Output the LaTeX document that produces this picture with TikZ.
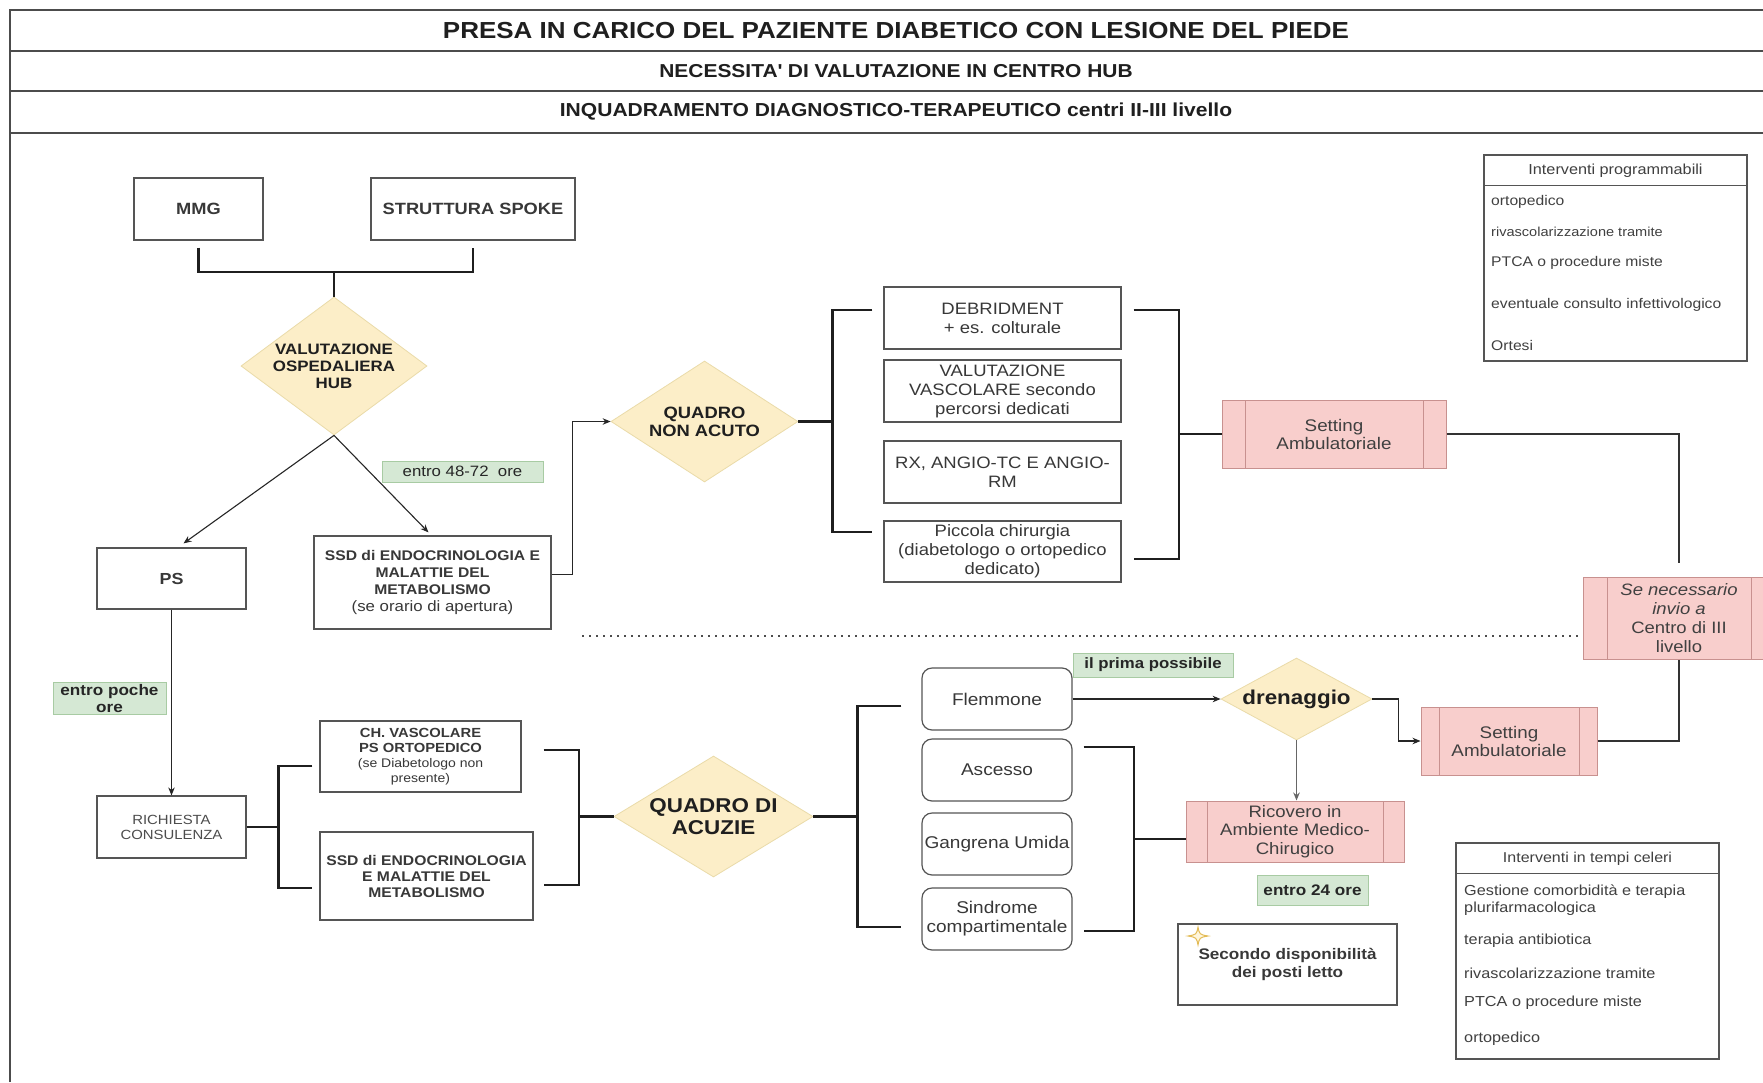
\documentclass[tikz,border=0pt]{standalone}
\usepackage{fontspec}
\setmainfont{Liberation Sans}[FakeStretch=1.12]
\usetikzlibrary{shapes.geometric,arrows.meta}

\definecolor{edge}{HTML}{555555}
\definecolor{pinkfill}{HTML}{F8CECC}
\definecolor{pinkline}{HTML}{C8918F}
\definecolor{yelfill}{HTML}{FCEEC8}
\definecolor{yelline}{HTML}{EADBA9}
\definecolor{grnfill}{HTML}{D5E8D4}
\definecolor{grnline}{HTML}{A8CBA3}
\definecolor{starline}{HTML}{E3BB55}
\definecolor{starfill}{HTML}{FFF6DC}

\newcommand\fsz[2]{\fontsize{#1}{#2}\selectfont}

\tikzset{
  box/.style={draw=edge, line width=1.2pt, fill=white, inner sep=0pt, align=center, text=black!78},
  rbox/.style={box, rounded corners=10pt},
  decision/.style={diamond, fill=yelfill, draw=yelline, line width=0.8pt, inner sep=0pt},
  dlabel/.style={inner sep=0pt, align=center, text=black!88, font=\bfseries},
  proc/.style={draw=pinkline, fill=pinkfill, line width=1pt, inner sep=0pt, align=center, text=black!75,
    path picture={\draw[pinkline, line width=1pt]
      ([xshift=#1]path picture bounding box.north west) -- ([xshift=#1]path picture bounding box.south west)
      ([xshift=-#1]path picture bounding box.north east) -- ([xshift=-#1]path picture bounding box.south east);}},
  proc/.default=23pt,
  tag/.style={fill=grnfill, draw=grnline, line width=0.8pt, inner sep=0pt, align=center, text=black!85},
  bracket/.style={draw=black!88, line width=2.2pt, line join=miter},
  heavy/.style={draw=black!80, line width=2pt},
  link/.style={draw=black!85, line width=1.1pt, -{Stealth[length=8pt,width=6.5pt]}},
  greylink/.style={draw=black!60, line width=1.8pt, -{Stealth[length=8pt,width=6.5pt]}},
  frame/.style={draw=black!70, line width=1.4pt},
  divider/.style={draw=black!70, line width=1.6pt, dash pattern=on 1.6pt off 5.4pt},
  item/.style={anchor=west, inner sep=0pt, text=black!75},
  title/.style={inner sep=0pt, text=black!88, font=\bfseries}
}

\begin{document}
\begin{tikzpicture}[x=1pt,y=-1pt]
\fill[white] (0,0) rectangle (1763,1082);
\useasboundingbox (0,0) rectangle (1763,1082);

% page frame and title rows
\draw[frame] (10,1082) -- (10,10) -- (1763,10);
\draw[frame] (10,51) -- (1763,51);
\draw[frame] (10,91) -- (1763,91);
\draw[frame] (10,133) -- (1763,133);
\node[title, font=\bfseries\fsz{23.2}{26}] (t1) at (896,30.5) {PRESA IN CARICO DEL PAZIENTE DIABETICO CON LESIONE DEL PIEDE};
\node[title, font=\bfseries\fsz{18.7}{22}] (t2) at (896,71) {NECESSITA\textquotesingle{} DI VALUTAZIONE IN CENTRO HUB};
\node[title, font=\bfseries\fsz{18.8}{22}] (t3) at (896,112) {INQUADRAMENTO DIAGNOSTICO-TERAPEUTICO centri II-III livello};

% entry points
\node[box, minimum width=129pt, minimum height=62pt, font=\bfseries\fsz{16.3}{19}] (mmg) at (198.5,209) {MMG};
\node[box, minimum width=204pt, minimum height=62pt, font=\bfseries\fsz{16.3}{19}] (spoke) at (473,209) {STRUTTURA SPOKE};
\node[decision, minimum width=186pt, minimum height=138pt] (val) at (334,366) {};
\node[dlabel, font=\bfseries\fsz{15.1}{17}] (valt) at (val.center) {VALUTAZIONE\\OSPEDALIERA\\HUB};
\coordinate (j1) at (334,272);
\draw[bracket] ([yshift=-7pt]mmg.south) |- (j1) -| ([yshift=-7pt]spoke.south);
\draw[bracket] (j1) -- (val.north);

% first split
\node[box, minimum width=149pt, minimum height=61pt, font=\bfseries\fsz{16}{19}] (ps) at (171.5,578.5) {PS};
\node[box, minimum width=237pt, minimum height=93pt, font=\bfseries\fsz{14}{17}] (ssd) at (432.5,582.5)
  {SSD di ENDOCRINOLOGIA E\\MALATTIE DEL\\METABOLISMO\\{\mdseries\fsz{15}{17}(se orario di apertura)}};
\node[tag, minimum width=161pt, minimum height=21pt, font=\fsz{15}{17}] (t4872) at (462.5,471.5) {entro 48-72\ \ ore};
\draw[link] (val.south) -- ([xshift=12pt,yshift=4pt]ps.north);
\draw[link] (val.south) -- ([xshift=-4pt,yshift=3pt]ssd.north);

% non acute branch
\node[decision, minimum width=187pt, minimum height=121pt] (qna) at (704.5,421.5) {};
\node[dlabel, font=\bfseries\fsz{16.4}{18}] (qnat) at (qna.center) {QUADRO\\NON ACUTO};
\draw[link] ([yshift=8pt]ssd.east) -- ++(21,0) |- (qna.west);

\node[box, minimum width=237pt, minimum height=62pt, font=\fsz{16.5}{19}] (deb) at (1002.5,318) {DEBRIDMENT\\+ es. colturale};
\node[box, minimum width=237pt, minimum height=62pt, font=\fsz{16.5}{19}] (vasc) at (1002.5,391) {VALUTAZIONE\\VASCOLARE secondo\\percorsi dedicati};
\node[box, minimum width=237pt, minimum height=62pt, font=\fsz{16.5}{19}] (rx) at (1002.5,472) {RX, ANGIO-TC E ANGIO-\\RM};
\node[box, minimum width=237pt, minimum height=61pt, font=\fsz{16.5}{19}] (pic) at (1002.5,551.5) {Piccola chirurgia\\(diabetologo o ortopedico\\dedicato)};

\draw[bracket] (qna.east) -- ++(35,0);
\draw[bracket] ([xshift=-11pt,yshift=8pt]deb.west) -- ([xshift=-51pt,yshift=8pt]deb.west)
  -- ([xshift=-51pt,yshift=19.5pt]pic.west) -- ([xshift=-11pt,yshift=19.5pt]pic.west);
\draw[bracket] ([xshift=12pt,yshift=8pt]deb.east) -- ([xshift=57pt,yshift=8pt]deb.east)
  -- ([xshift=57pt,yshift=-7.5pt]pic.east) -- ([xshift=12pt,yshift=-7.5pt]pic.east);

\node[proc, minimum width=224pt, minimum height=68pt, font=\fsz{16.8}{18}] (set1) at (1334,434) {Setting\\Ambulatoriale};
\draw[bracket] (set1.west) -- ++(-44,0);

\node[proc=24pt, minimum width=192pt, minimum height=82pt, font=\fsz{16.5}{19}] (se) at (1679,618)
  {\textit{Se necessario}\\\textit{invio a}\\Centro di III\\livello};
\draw[heavy] (set1.east) -| ([yshift=14pt]se.north);

% separator between the two pathways
\coordinate (divL) at (582,636);
\coordinate (divR) at (1578,636);
\draw[divider] (divL) -- (divR);

% acute branch
\node[tag, minimum width=113pt, minimum height=32pt, font=\bfseries\fsz{15.3}{17}] (tpoche) at (109.5,698.5) {entro poche\\ore};
\node[box, minimum width=149pt, minimum height=62pt, font=\fsz{13.3}{15}, text=black!70] (rich) at (171.5,827) {RICHIESTA\\CONSULENZA};
\draw[link] (ps.south) -- (rich.north);

\node[box, minimum width=201pt, minimum height=71pt, font=\bfseries\fsz{13.2}{15}] (chv) at (420.5,756.5)
  {CH. VASCOLARE\\PS ORTOPEDICO\\{\mdseries\fsz{12.5}{14}(se Diabetologo non}\\{\mdseries\fsz{12.5}{14}presente)}};
\node[box, minimum width=213pt, minimum height=88pt, font=\bfseries\fsz{14}{16}] (ssd2) at (426.5,876)
  {SSD di ENDOCRINOLOGIA\\E MALATTIE DEL\\METABOLISMO};
\draw[bracket] (rich.east) -- ++(33,0);
\draw[bracket] ([xshift=-7pt,yshift=-9.5pt]chv.west) -- ([xshift=-41pt,yshift=-9.5pt]chv.west)
  -- ([xshift=-41pt,yshift=-12pt]ssd2.west) -- ([xshift=-7pt,yshift=-12pt]ssd2.west);

\node[decision, minimum width=199pt, minimum height=121pt] (qa) at (713.5,816.5) {};
\node[dlabel, font=\bfseries\fsz{20}{22}] (qat) at (qa.center) {QUADRO DI\\ACUZIE};
\draw[bracket] ([xshift=22pt,yshift=6.5pt]chv.east) -- ([xshift=57pt,yshift=6.5pt]chv.east)
  -- ([xshift=45pt,yshift=-9pt]ssd2.east) -- ([xshift=10pt,yshift=-9pt]ssd2.east);
\draw[bracket] (qa.west) -- ++(-36,0);

\node[rbox, minimum width=150pt, minimum height=62pt, font=\fsz{17}{19}] (fle) at (997,699) {Flemmone};
\node[rbox, minimum width=150pt, minimum height=62pt, font=\fsz{17}{19}] (asc) at (997,770) {Ascesso};
\node[rbox, minimum width=150pt, minimum height=62pt, font=\fsz{17}{19}] (gan) at (997,844) {Gangrena Umida};
\node[rbox, minimum width=150pt, minimum height=62pt, font=\fsz{17}{19}] (sin) at (997,919) {Sindrome\\compartimentale};
\draw[bracket] (qa.east) -- ++(45,0);
\draw[bracket] ([xshift=-20pt,yshift=-7pt]fle.west) -- ([xshift=-64pt,yshift=-7pt]fle.west)
  -- ([xshift=-64pt,yshift=-8pt]sin.west) -- ([xshift=-20pt,yshift=-8pt]sin.west);

\node[decision, minimum width=151pt, minimum height=82pt] (dre) at (1296.5,699) {};
\node[dlabel, font=\bfseries\fsz{20}{22}] (dret) at (dre.center) {drenaggio};
\node[tag, minimum width=160pt, minimum height=24pt, font=\bfseries\fsz{15}{17}] (tprima) at (1153,665) {il prima possibile};
\draw[link] (fle.east) -- (dre.west);

\node[proc=18pt, minimum width=176pt, minimum height=68pt, font=\fsz{16.8}{18}] (set2) at (1509,741) {Setting\\Ambulatoriale};
\draw[link] (dre.east) -- ++(26,0) |- (set2.west);
\draw[heavy] (set2.east) -| (se.south);

\node[proc=21pt, minimum width=218pt, minimum height=61pt, font=\fsz{16.6}{18.5}] (ric) at (1295,831.5) {Ricovero in\\Ambiente Medico-\\Chirugico};
\draw[greylink] (dre.south) -- (dre.south |- ric.north);
\draw[bracket] ([xshift=11pt,yshift=23pt]asc.east) -- ([xshift=61pt,yshift=23pt]asc.east)
  -- ([xshift=61pt,yshift=-12pt]sin.east) -- ([xshift=11pt,yshift=-12pt]sin.east);
\draw[bracket] ([yshift=-7.5pt]ric.west) -- ++(-53,0);

\node[tag, minimum width=111pt, minimum height=30pt, font=\bfseries\fsz{15.3}{17}] (t24) at (1312.5,890) {entro 24 ore};
\node[box, minimum width=219pt, minimum height=81pt, font=\bfseries\fsz{15.3}{18}] (sec) at (1287.5,964.5) {Secondo disponibilità\\dei posti letto};
\draw[starline, fill=starfill, line width=1pt] (1198,927) .. controls (1199.5,934.5) .. (1208,936)
  .. controls (1199.5,937.5) .. (1198,945) .. controls (1196.5,937.5) .. (1188,936)
  .. controls (1196.5,934.5) .. (1198,927) -- cycle;

% scheduled interventions list
\node[box, minimum width=263pt, minimum height=206pt] (ip) at (1615.5,258) {};
\draw[draw=edge, line width=1.2pt] ([yshift=-31pt]ip.north west) -- ([yshift=-31pt]ip.north east);
\node[inner sep=0pt, text=black!75, font=\fsz{14.5}{17}] (iph) at ([yshift=-16pt]ip.north) {Interventi programmabili};
\node[item, font=\fsz{14}{16}] (ip1) at (1491,202) {ortopedico};
\node[item, font=\fsz{13}{16}] (ip2) at (1491,232) {rivascolarizzazione tramite};
\node[item, font=\fsz{14}{16}] (ip3) at (1491,263) {PTCA o procedure miste};
\node[item, font=\fsz{14}{16}] (ip4) at (1491,305) {eventuale consulto infettivologico};
\node[item, font=\fsz{14}{16}] (ip5) at (1491,345) {Ortesi};

% fast-track interventions list
\node[box, minimum width=263pt, minimum height=216pt] (ic) at (1587.5,951) {};
\draw[draw=edge, line width=1.2pt] ([yshift=-31pt]ic.north west) -- ([yshift=-31pt]ic.north east);
\node[inner sep=0pt, text=black!75, font=\fsz{14.3}{17}] (ich) at ([yshift=-16pt]ic.north) {Interventi in tempi celeri};
\node[item, font=\fsz{14.5}{17}, align=left, anchor=north west] (ic1) at (1464,885) {Gestione comorbidità e terapia\\plurifarmacologica};
\node[item, font=\fsz{14.5}{17}] (ic2) at (1464,941) {terapia antibiotica};
\node[item, font=\fsz{14.5}{17}] (ic3) at (1464,973) {rivascolarizzazione tramite};
\node[item, font=\fsz{14.5}{17}] (ic4) at (1464,1003) {PTCA o procedure miste};
\node[item, font=\fsz{14.5}{17}] (ic5) at (1464,1039) {ortopedico};
\end{tikzpicture}
\end{document}
